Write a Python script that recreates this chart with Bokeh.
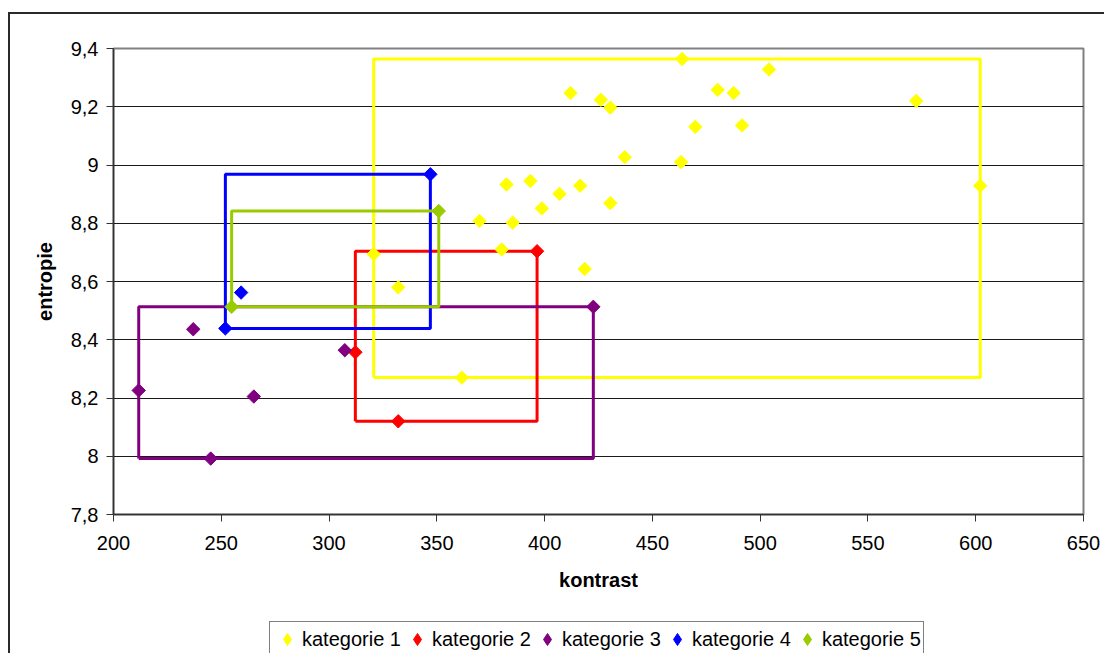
from bokeh.plotting import figure
from bokeh.layouts import column
from bokeh.models import Range1d, FixedTicker, Legend, LegendItem
from bokeh.embed import file_html
from bokeh.resources import INLINE
import math

# ---- data ----
kat1_x = [320.7, 332.1, 361.6, 369.8, 380.1, 382.3, 385.2, 393.4, 398.7, 406.9,
          412.0, 416.5, 418.6, 426.1, 430.5, 430.5, 437.2, 463.3, 463.8, 469.9,
          480.3, 487.7, 491.6, 504.1, 572.4, 602.1]
kat1_y = [8.694, 8.580, 8.270, 8.808, 8.710, 8.933, 8.802, 8.945, 8.851, 8.901,
          9.247, 8.929, 8.643, 9.224, 9.197, 8.869, 9.027, 9.010, 9.364, 9.131,
          9.258, 9.247, 9.136, 9.328, 9.220, 8.929]
kat2_x = [396.5, 312.2, 332.1]
kat2_y = [8.704, 8.357, 8.120]
kat3_x = [211.7, 237.0, 265.1, 245.1, 307.3, 422.6]
kat3_y = [8.226, 8.436, 8.205, 7.992, 8.364, 8.513]
kat4_x = [259.2, 251.9, 347.0]
kat4_y = [8.562, 8.439, 8.968]
kat5_x = [254.8, 350.9]
kat5_y = [8.513, 8.842]

names = ["kategorie 1", "kategorie 2", "kategorie 3", "kategorie 4", "kategorie 5"]
colors = ["#FFFF00", "#FF0000", "#800080", "#0000FF", "#99CC00"]
series = [(kat1_x, kat1_y), (kat2_x, kat2_y), (kat3_x, kat3_y), (kat4_x, kat4_y), (kat5_x, kat5_y)]

x_ticks = [200, 250, 300, 350, 400, 450, 500, 550, 600, 650]
y_ticks = [7.8, 8.0, 8.2, 8.4, 8.6, 8.8, 9.0, 9.2, 9.4]
y_labels = ["7,8", "8", "8,2", "8,4", "8,6", "8,8", "9", "9,2", "9,4"]

FONT = "Liberation Sans"
FS = "20px"
BORDER = "#2a2a2a"

p = figure(frame_width=970, frame_height=466, output_backend="svg", toolbar_location=None,
           x_range=Range1d(200, 650), y_range=Range1d(7.8, 9.4),
           min_border_left=113, min_border_right=21, min_border_top=48,
           min_border_bottom=96, background_fill_color="white",
           border_fill_color="white", border_fill_alpha=0)
# outer chart-area border (left and top edges, the rest is outside the picture)
p.styles = {
    "background": (f"linear-gradient({BORDER}, {BORDER}) 8px 12px / 2px calc(100% - 12px) no-repeat, "
                   f"linear-gradient({BORDER}, {BORDER}) 8px 12px / calc(100% - 8px) 2px no-repeat, "
                   "#ffffff")
}

p.outline_line_color = "#808080"
p.outline_line_width = 2

p.xgrid.visible = False
p.ygrid.grid_line_color = "#1a1a1a"
p.ygrid.grid_line_width = 1
p.ygrid.ticker = FixedTicker(ticks=y_ticks)

p.xaxis.ticker = FixedTicker(ticks=x_ticks)
p.yaxis.ticker = FixedTicker(ticks=y_ticks)
p.yaxis.major_label_overrides = {t: l for t, l in zip(y_ticks, y_labels)}

for ax in (p.xaxis[0], p.yaxis[0]):
    ax.axis_line_color = "#333333"
    ax.axis_line_width = 1.5
    ax.major_tick_line_color = "#333333"
    ax.major_tick_in = 0
    ax.major_tick_out = 7
    ax.minor_tick_line_color = None
    ax.major_label_text_font = FONT
    ax.major_label_text_font_size = FS
    ax.major_label_text_color = "black"
    ax.axis_label_text_font = FONT
    ax.axis_label_text_font_size = FS
    ax.axis_label_text_font_style = "bold"
    ax.axis_label_text_color = "black"

p.xaxis.axis_label = "kontrast"
p.yaxis.axis_label = "entropie"
p.xaxis.major_label_standoff = 14
p.xaxis.axis_label_standoff = 16
p.yaxis.major_label_standoff = 8
p.yaxis.axis_label_standoff = 12
p.yaxis.major_label_orientation = "horizontal"

# bounding rectangles (computed from the data of each category)
for (xs, ys), c in zip(series, colors):
    x0, x1, y0, y1 = min(xs), max(xs), min(ys), max(ys)
    p.line([x0, x1, x1, x0, x0], [y0, y0, y1, y1, y0], line_color=c, line_width=3)

for (xs, ys), c in zip(series, colors):
    p.scatter(xs, ys, marker="square", size=9.5, angle=math.pi / 4,
              fill_color=c, line_color=c)

# ---- legend strip below the chart (same series, drawn out of view) ----
p2 = figure(width=1104, height=43, output_backend="svg", toolbar_location=None,
            x_axis_type=None, y_axis_type=None,
            x_range=Range1d(0, 1), y_range=Range1d(0, 1),
            min_border_left=0, min_border_right=0, min_border_top=0, min_border_bottom=0,
            background_fill_alpha=0, border_fill_alpha=0, outline_line_color=None)
p2.styles = {
    "background": f"linear-gradient({BORDER}, {BORDER}) 8px 0 / 2px 100% no-repeat, #ffffff"
}
p2.grid.visible = False

items = []
for (xs, ys), c, n in zip(series, colors, names):
    r = p2.scatter(xs, ys, marker="diamond", size=12, fill_color=c, line_color=c)
    items.append(LegendItem(label=n, renderers=[r]))

legend = Legend(items=items, orientation="horizontal", location=(156, -4),
                label_text_font=FONT, label_text_font_size=FS,
                label_text_color="black", border_line_color="black",
                border_line_width=1, padding=2, spacing=1, margin=0,
                glyph_width=30, glyph_height=30, label_standoff=0,
                background_fill_color="white", background_fill_alpha=1)
p2.add_layout(legend)

layout = column(p, p2, spacing=0)
open("out.html", "w").write(file_html(layout, INLINE))
